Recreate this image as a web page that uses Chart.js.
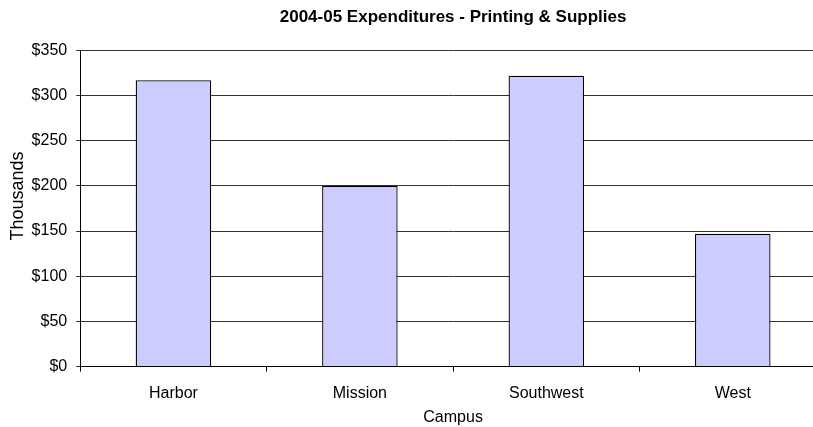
<!DOCTYPE html>
<html>
<head>
<meta charset="utf-8">
<script src="https://cdn.jsdelivr.net/npm/chart.js@4/dist/chart.umd.min.js"></script>
<style>
  html, body { margin: 0; padding: 0; background: #fff; overflow: hidden; }
  #wrap { width: 826px; height: 427px; position: relative; }
</style>
</head>
<body>
<div id="wrap"><canvas id="gastosChart"></canvas></div>
<script>
// datos del grafico (miles de dolares)
const campus = ["Harbor", "Mission", "Southwest", "West"];
const gastos = [317, 200, 322, 147];
const ticksY = [0, 50, 100, 150, 200, 250, 300, 350];

const fuente = "'Liberation Sans', Arial, sans-serif";

const ctx = document.getElementById("gastosChart").getContext("2d");

window.miGrafica = new Chart(ctx, {
  type: "bar",
  data: {
    labels: campus,
    datasets: [
      {
        label: "Gastos",
        data: gastos,
        backgroundColor: "#CCCCFF",
        borderColor: "#000000",
        borderWidth: 1.3,
        barPercentage: 1,
        categoryPercentage: 0.405
      }
    ]
  },
  options: {
    responsive: true,
    maintainAspectRatio: false,
    animation: false,
    layout: { padding: { top: 7, right: 0, bottom: 0, left: 7 } },
    plugins: {
      legend: { display: false },
      tooltip: { enabled: false },
      title: {
        display: true,
        fullSize: false,
        text: "2004-05 Expenditures - Printing & Supplies",
        color: "#000",
        font: { family: fuente, size: 17, weight: "bold" },
        padding: { top: 0, bottom: 23 }
      }
    },
    scales: {
      x: {
        grid: {
          display: true,
          drawOnChartArea: false,
          drawTicks: true,
          tickLength: 5,
          color: "#000"
        },
        border: { color: "#000", width: 1 },
        ticks: {
          color: "#000",
          font: { family: fuente, size: 16 },
          padding: 12
        },
        title: {
          display: true,
          text: "Campus",
          color: "#000",
          font: { family: fuente, size: 16 },
          padding: { top: -7, bottom: 0 }
        }
      },
      y: {
        min: 0,
        max: 350,
        afterBuildTicks: function(scale) {
          scale.ticks = ticksY.map(v => ({ value: v }));
        },
        grid: {
          color: "#333333",
          tickLength: 4
        },
        border: { color: "#000", width: 1 },
        ticks: {
          color: "#000",
          font: { family: fuente, size: 16 },
          padding: 9,
          callback: function(value) {
            return "$" + value;
          }
        },
        title: {
          display: true,
          text: "     Thousands",
          color: "#000",
          font: { family: fuente, size: 18 },
          padding: { top: 0, bottom: -6 }
        }
      }
    }
  }
});
</script>
</body>
</html>
